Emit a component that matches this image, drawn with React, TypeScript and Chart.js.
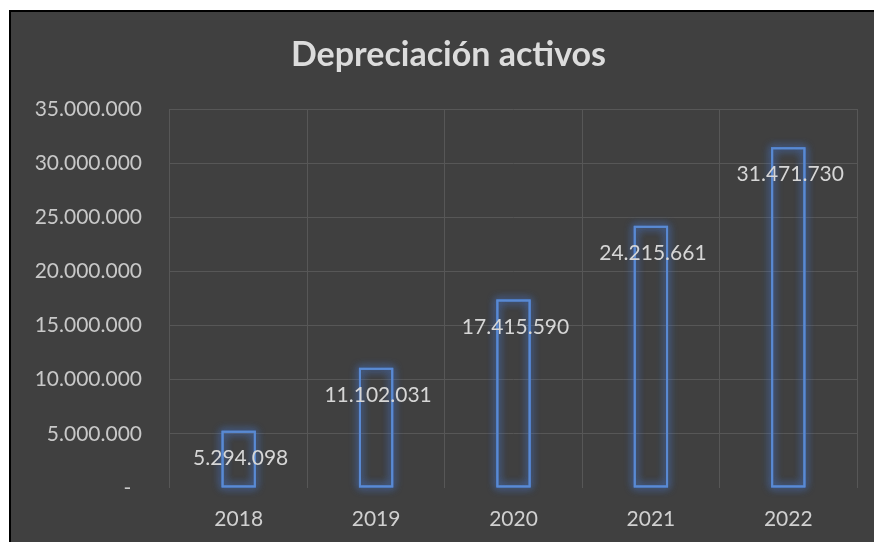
import React, { useEffect, useRef } from 'react';
import { Chart, registerables } from 'chart.js';

Chart.register(...registerables);

const title = 'Depreciación activos';
const categories = ['2018', '2019', '2020', '2021', '2022'];
const values = [5294098, 11102031, 17415590, 24215661, 31471730];
const yMax = 35000000;
const yStep = 5000000;

const FONT = 'Lato, "Open Sans", sans-serif';
const GRID = '#575757';
const BAR = '#5A8AD2';

function fmt(n: number): string {
  return Math.round(n).toString().replace(/\B(?=(\d{3})+(?!\d))/g, '.');
}

const glowPlugin = {
  id: 'glow',
  beforeDatasetsDraw(chart: any) {
    const ctx = chart.ctx;
    const meta = chart.getDatasetMeta(0);
    ctx.save();
    ctx.strokeStyle = 'rgba(80,130,210,0.9)';
    ctx.lineWidth = 2;
    ctx.shadowColor = 'rgba(70,120,210,1)';
    ctx.shadowBlur = 8;
    meta.data.forEach((bar: any) => {
      const w = bar.width;
      const left = bar.x - w / 2;
      const top = Math.min(bar.y, bar.base);
      const h = Math.abs(bar.base - bar.y);
      ctx.strokeRect(left + 1, top + 1, w - 2, h - 2);
      ctx.strokeRect(left + 1, top + 1, w - 2, h - 2);
    });
    ctx.restore();
  },
  afterDatasetsDraw(chart: any) {
    const ctx = chart.ctx;
    const meta = chart.getDatasetMeta(0);
    ctx.save();
    ctx.fillStyle = '#D6D6D6';
    ctx.font = `21px ${FONT}`;
    ctx.textAlign = 'center';
    ctx.textBaseline = 'middle';
    meta.data.forEach((bar: any, i: number) => {
      ctx.fillText(fmt(values[i]), bar.x + 2, bar.y + 27.5);
    });
    ctx.restore();
  },
  afterDraw(chart: any) {
    const ctx = chart.ctx;
    ctx.save();
    ctx.fillStyle = '#DCDCDC';
    ctx.font = `bold 34px ${FONT}`;
    ctx.textAlign = 'center';
    ctx.textBaseline = 'alphabetic';
    ctx.fillText(title, chart.width / 2, 54);
    ctx.restore();
  },
};

export default function App() {
  const ref = useRef<HTMLCanvasElement | null>(null);
  useEffect(() => {
    if (!ref.current) return;
    const chart = new Chart(ref.current, {
      type: 'bar',
      data: {
        labels: categories,
        datasets: [
          {
            data: values,
            backgroundColor: 'rgba(0,0,0,0)',
            borderColor: BAR,
            borderWidth: 2,
            borderSkipped: false,
            barPercentage: 0.25,
            categoryPercentage: 1,
          },
        ],
      },
      options: {
        responsive: false,
        animation: false,
        devicePixelRatio: 1,
        layout: { padding: { top: 97, right: 29, left: 0, bottom: 0 } },
        plugins: {
          legend: { display: false },
          tooltip: { enabled: false },
          title: { display: false },
        },
        scales: {
          x: {
            grid: { offset: true, color: GRID, lineWidth: 1, drawTicks: false },
            border: { display: false },
            ticks: { color: '#D0D0D0', font: { family: FONT, size: 21 }, padding: 19 },
            afterFit: (s: any) => {
              s.height = 54;
            },
          },
          y: {
            min: 0,
            max: yMax,
            grid: {
              color: (c: any) => (c.tick && c.tick.value === 0 ? 'rgba(0,0,0,0)' : GRID),
              lineWidth: 1,
              drawTicks: false,
            },
            border: { display: false },
            ticks: {
              stepSize: yStep,
              color: '#C8C8C8',
              font: { family: FONT, size: 21 },
              padding: 28,
              callback: (v: any) => (Number(v) === 0 ? '-\u00A0\u00A0' : fmt(Number(v))),
            },
            afterFit: (s: any) => {
              s.width = 159;
            },
          },
        },
      },
      plugins: [glowPlugin],
    });
    return () => chart.destroy();
  }, []);

  return (
    <div
      style={{
        position: 'fixed',
        left: 9,
        top: 10,
        borderLeft: '2px solid #000',
        borderTop: '2px solid #000',
        background: '#404040',
        width: 863,
        height: 530,
        overflow: 'hidden',
      }}
    >
      <canvas ref={ref} width={875} height={530} style={{ display: 'block' }} />
    </div>
  );
}
